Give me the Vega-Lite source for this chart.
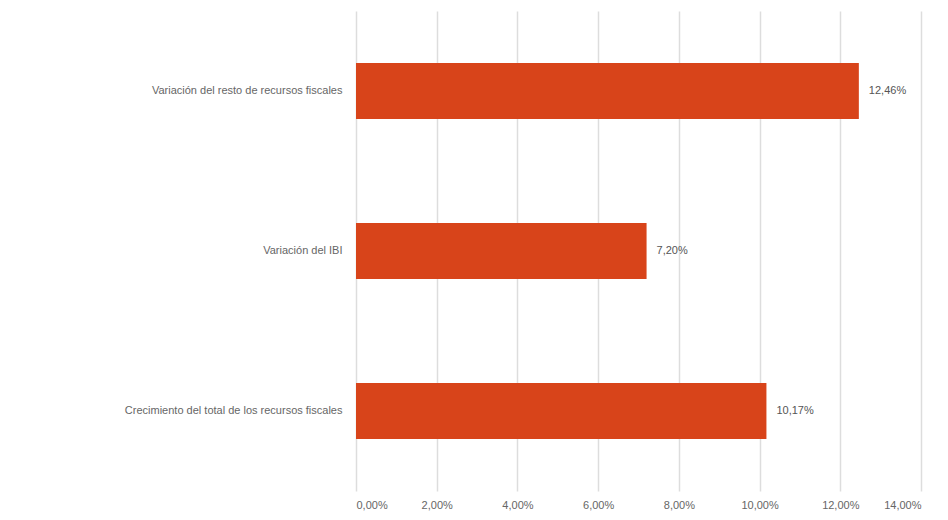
{
  "$schema": "https://vega.github.io/schema/vega-lite/v6.json",
  "autosize": "none",
  "width": 565,
  "height": 480,
  "padding": {"left": 356, "top": 11, "right": 27, "bottom": 29},
  "background": "white",
  "config": {
    "locale": {"number": {"decimal": ",", "thousands": ".", "grouping": [3], "currency": ["", " €"]}},
    "view": {"stroke": null},
    "font": "Liberation Sans"
  },
  "data": {
    "values": [
      {"categoria": "Variación del resto de recursos fiscales", "valor": 0.1246},
      {"categoria": "Variación del IBI", "valor": 0.072},
      {"categoria": "Crecimiento del total de los recursos fiscales", "valor": 0.1017}
    ]
  },
  "encoding": {
    "y": {
      "field": "categoria",
      "type": "nominal",
      "sort": null,
      "title": null,
      "scale": {"paddingInner": 0.65, "paddingOuter": 0.325},
      "axis": {"domain": false, "ticks": false, "labelPadding": 14, "labelFontSize": 11, "labelColor": "#666666", "labelLimit": 400}
    },
    "x": {
      "field": "valor",
      "type": "quantitative",
      "title": null,
      "scale": {"domain": [0, 0.14], "nice": false},
      "axis": {"format": ".2%", "values": [0, 0.02, 0.04, 0.06, 0.08, 0.1, 0.12, 0.14], "domain": false, "ticks": false, "labelPadding": 8, "labelFontSize": 11, "labelColor": "#666666", "gridColor": "#dddddd", "gridWidth": 1.5}
    }
  },
  "layer": [
    {"mark": {"type": "bar", "color": "#d8441a"}},
    {
      "mark": {"type": "text", "align": "left", "dx": 10, "fontSize": 11, "color": "#555555"},
      "encoding": {"text": {"field": "valor", "type": "quantitative", "format": ".2%"}}
    }
  ]
}
